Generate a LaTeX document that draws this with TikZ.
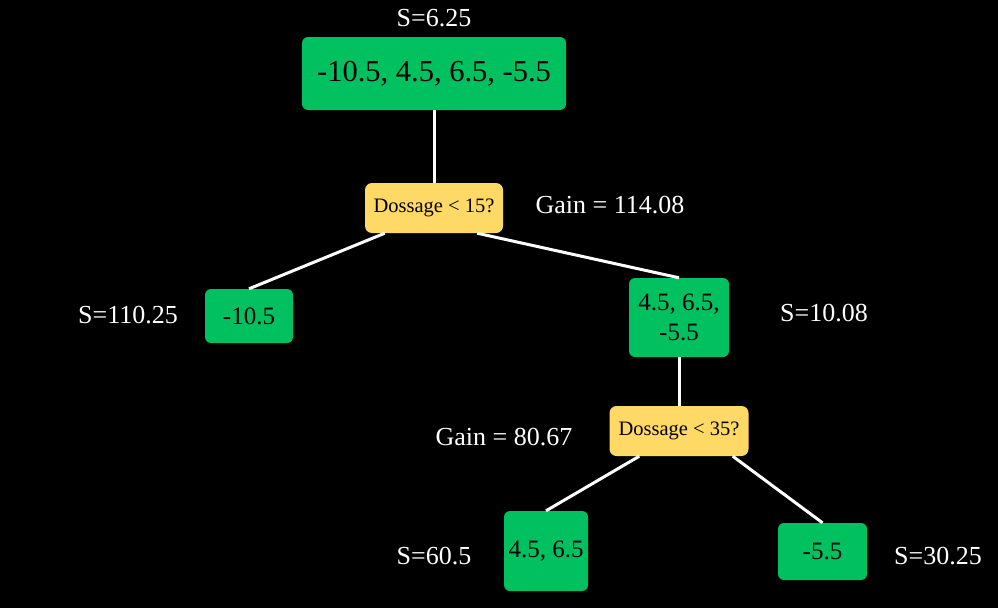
\documentclass[tikz,border=0pt]{standalone}
\usepackage{fontspec}
\setmainfont{Liberation Serif}
\definecolor{leafgreen}{RGB}{0,192,96}
\definecolor{qyellow}{RGB}{255,217,102}
\begin{document}
\begin{tikzpicture}[x=1pt,y=-1pt,
  gbox/.style={fill=leafgreen,rounded corners=6pt,inner sep=0pt,text=black,align=center},
  ybox/.style={fill=qyellow,rounded corners=7pt,inner sep=0pt,text=black,minimum width=138pt,minimum height=50pt,font=\fontsize{20.5}{24}\selectfont},
  lbl/.style={text=white,inner sep=0pt,font=\fontsize{26}{30}\selectfont},
  edge/.style={draw=white,line width=3pt}]
\fill[black] (0,0) rectangle (998,608);
\useasboundingbox (0,0) rectangle (998,608);
\node[gbox,minimum width=264pt,minimum height=73pt,font=\fontsize{30.5}{34}\selectfont] (root) at (434,73.5) {-10.5, 4.5, 6.5, -5.5};
\node[ybox] (d1) at (434,208) {Dossage < 15?};
\node[gbox,minimum width=88pt,minimum height=54pt,font=\fontsize{25}{28}\selectfont] (l1) at (249,316) {-10.5};
\node[gbox,minimum width=100pt,minimum height=79pt,font=\fontsize{25}{30}\selectfont] (m) at (679,317.5) {4.5, 6.5,\\-5.5};
\node[ybox,minimum width=139pt] (d2) at (679,431) {Dossage < 35?};
\node[gbox,minimum width=84pt,minimum height=80pt,font=\fontsize{25}{28}\selectfont] (l2) at (546,551) {4.5, 6.5};
\node[gbox,minimum width=89pt,minimum height=57pt,font=\fontsize{25}{28}\selectfont] (l3) at (822.5,551.5) {-5.5};
\node[lbl] (s0) at (434,18) {S=6.25};
\node[lbl] (g1) at (610,205) {Gain = 114.08};
\node[lbl] (s1) at (128,315) {S=110.25};
\node[lbl] (s2) at (824,313) {S=10.08};
\node[lbl] (g2) at (504,437) {Gain = 80.67};
\node[lbl] (s3) at (434,556) {S=60.5};
\node[lbl] (s4) at (938,556) {S=30.25};
\draw[edge] (root.south) -- (d1.north);
\draw[edge] ([xshift=20pt]d1.south west) -- (l1.north);
\draw[edge] ([xshift=-26pt]d1.south east) -- (m.north);
\draw[edge] (m.south) -- (d2.north);
\draw[edge] ([xshift=30pt]d2.south west) -- (l2.north);
\draw[edge] ([xshift=-16pt]d2.south east) -- (l3.north);
\end{tikzpicture}
\end{document}
